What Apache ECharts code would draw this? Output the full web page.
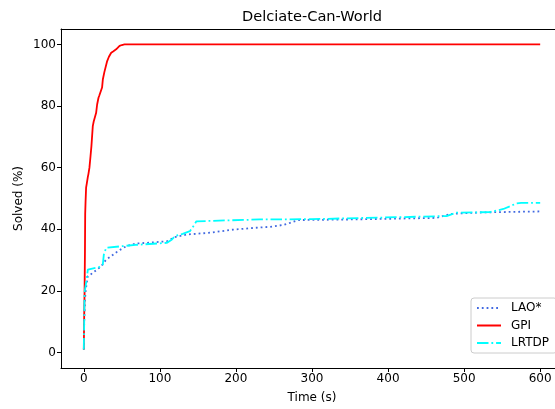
<!DOCTYPE html>
<html>
<head>
<meta charset="utf-8">
<script src="https://cdn.jsdelivr.net/npm/echarts@6/dist/echarts.min.js"></script>
<style>html,body{margin:0;padding:0;background:#fff;overflow:hidden;}#c{width:565px;height:409px;}</style>
</head>
<body>
<div id="c"></div>
<script>
var xTicks = [0, 100, 200, 300, 400, 500, 600];
var yTicks = [0, 20, 40, 60, 80, 100];

var laoT = [0, 0.5, 1.5, 2.6, 5.3, 8.8, 15, 22.8, 29.4, 36, 44.7, 55.7, 68.8, 82, 109, 120, 135, 166, 196, 231, 245, 262, 271, 282, 350, 464, 482, 525, 600];
var laoV = [1, 10, 17, 20.5, 24.8, 25.3, 26.5, 28, 30.2, 31.3, 32.9, 34.5, 35.4, 35.6, 36.1, 37.5, 38.3, 38.9, 39.9, 40.6, 40.8, 41.4, 42.1, 43, 43.2, 43.7, 45, 45.5, 45.8];

var gpiT = [0, 0.3, 0.6, 1, 1.5, 1.8, 2.3, 3, 4, 5.3, 6.1, 7.4, 8.8, 10, 11.8, 13, 16.2, 17.5, 19.3, 20.5, 22.8, 24, 25, 27, 30.7, 33, 36, 39, 42.5, 45, 47, 50, 53.5, 600];
var gpiV = [1, 8, 14, 20, 33, 45, 49, 53.5, 55, 57, 58, 60, 63.7, 67, 73.5, 75, 77.8, 80.5, 82.7, 83.5, 83.8, 86, 88.6, 91, 94.6, 96, 97.3, 97.8, 98.4, 99, 99.5, 99.8, 100, 100];

var lrtdpT = [0, 0.5, 0.9, 3, 5.3, 9.6, 20.6, 25, 26.3, 29.4, 49, 71, 109, 115, 120, 130, 139.5, 144, 148, 231, 300, 477, 490, 534, 551.7, 569, 575, 600];
var lrtdpV = [1, 10, 19.4, 22.6, 26.9, 27.2, 27.8, 28.6, 31.8, 34, 34.5, 35, 35.6, 36.5, 37.8, 38.5, 39.4, 41, 42.6, 43.2, 43.3, 44.3, 45.4, 45.6, 46.6, 48.4, 48.6, 48.6];

function pairs(t, v) { return t.map(function (x, i) { return [x, v[i]]; }); }

var font = 'DejaVu Sans';
var chart = echarts.init(document.getElementById('c'), null, { renderer: 'canvas', width: 565, height: 409 });
chart.setOption({
  animation: false,
  backgroundColor: '#ffffff',
  title: {
    text: 'Delciate-Can-World',
    left: 307, top: 5, textAlign: 'center',
    textStyle: { fontFamily: font, fontSize: 14.6, fontWeight: 'normal', color: '#000' }
  },
  grid: { left: 61, right: 2, top: 29, bottom: 41, show: false },
  xAxis: [{
    type: 'value', min: -30, max: 630,
    name: 'Time (s)', nameLocation: 'middle', nameGap: 24, nameMoveOverlap: false,
    nameTextStyle: { fontFamily: font, fontSize: 12, color: '#000' },
    splitLine: { show: false },
    axisLine: { show: true, onZero: false, lineStyle: { color: '#000', width: 1 } },
    axisTick: { show: true, length: 4, inside: false, customValues: xTicks, lineStyle: { color: '#000' } },
    axisLabel: { customValues: xTicks, fontFamily: font, fontSize: 12, color: '#000', margin: 5, showMinLabel: true, showMaxLabel: true }
  }, {
    type: 'value', min: -30, max: 630, position: 'top',
    splitLine: { show: false },
    axisLine: { show: true, onZero: false, lineStyle: { color: '#000', width: 1 } },
    axisTick: { show: false }, axisLabel: { show: false }
  }],
  yAxis: {
    type: 'value', min: -5, max: 105,
    name: 'Solved (%)', nameLocation: 'middle', nameGap: 36, nameRotate: 90, nameMoveOverlap: false,
    nameTextStyle: { fontFamily: font, fontSize: 12, color: '#000' },
    splitLine: { show: false },
    axisLine: { show: true, onZero: false, lineStyle: { color: '#000', width: 1 } },
    axisTick: { show: true, length: 4, inside: false, customValues: yTicks, lineStyle: { color: '#000' } },
    axisLabel: { customValues: yTicks, fontFamily: font, fontSize: 12, color: '#000', margin: 5 }
  },
  legend: {
    orient: 'vertical', left: 471, top: 298,
    padding: [4, 8, 4, 5], itemGap: 5.5, itemWidth: 24, itemHeight: 14,
    backgroundColor: 'rgba(255,255,255,0.8)', borderColor: '#cccccc', borderWidth: 1, borderRadius: 3,
    itemStyle: { opacity: 0 },
    textStyle: { fontFamily: font, fontSize: 12, color: '#000', padding: [0, 0, 0, 5] },
    data: ['LAO*', 'GPI', 'LRTDP']
  },
  series: [
    { name: 'LAO*', type: 'line', data: pairs(laoT, laoV), symbol: 'none', showSymbol: false, z: 2,
      lineStyle: { color: '#4169e1', width: 1.8, type: [1.8, 3] }, itemStyle: { color: '#4169e1' } },
    { name: 'GPI', type: 'line', data: pairs(gpiT, gpiV), symbol: 'none', showSymbol: false, z: 3,
      lineStyle: { color: '#ff0000', width: 1.8, type: 'solid' }, itemStyle: { color: '#ff0000' } },
    { name: 'LRTDP', type: 'line', data: pairs(lrtdpT, lrtdpV), symbol: 'none', showSymbol: false, z: 4,
      lineStyle: { color: '#00ffff', width: 1.8, type: [11.5, 2.9, 1.8, 2.9] }, itemStyle: { color: '#00ffff' } }
  ]
});
</script>
</body>
</html>
